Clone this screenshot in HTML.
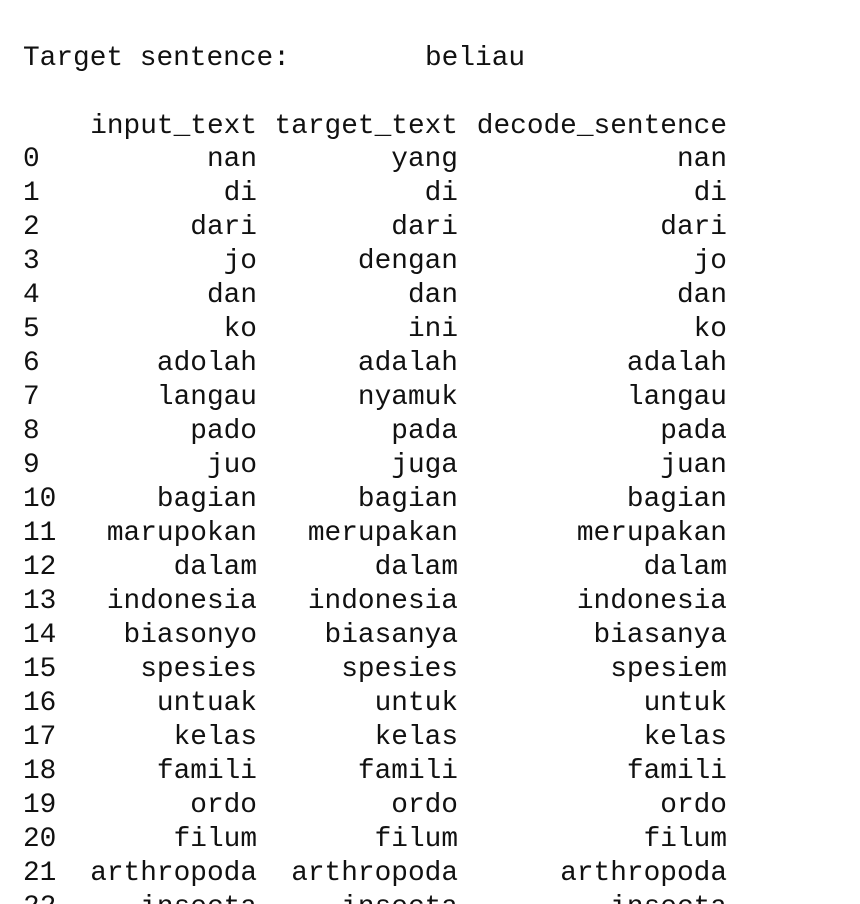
<!DOCTYPE html>
<html><head><meta charset="utf-8"><style>
html,body{margin:0;padding:0;width:860px;height:904px;overflow:hidden;background:#fff;}
#w{position:relative;width:860px;height:904px;overflow:hidden;font-family:"Liberation Mono",monospace;font-size:27.8px;color:#111;}
.r{position:absolute;left:0;width:860px;height:34px;line-height:34px;}
.r span{position:absolute;top:0;white-space:pre;}
.i{left:23px}
.a{right:603px}
.b{right:402px}
.c{right:133px}
</style></head><body><div id="w">
<div class="r" style="top:42px"><span style="left:23px">Target sentence:</span><span style="left:425px">beliau</span></div>
<div class="r" style="top:110px"><span class="a">input_text</span><span class="b">target_text</span><span class="c">decode_sentence</span></div>
<div class="r" style="top:143px"><span class="i">0</span><span class="a">nan</span><span class="b">yang</span><span class="c">nan</span></div>
<div class="r" style="top:177px"><span class="i">1</span><span class="a">di</span><span class="b">di</span><span class="c">di</span></div>
<div class="r" style="top:211px"><span class="i">2</span><span class="a">dari</span><span class="b">dari</span><span class="c">dari</span></div>
<div class="r" style="top:245px"><span class="i">3</span><span class="a">jo</span><span class="b">dengan</span><span class="c">jo</span></div>
<div class="r" style="top:279px"><span class="i">4</span><span class="a">dan</span><span class="b">dan</span><span class="c">dan</span></div>
<div class="r" style="top:313px"><span class="i">5</span><span class="a">ko</span><span class="b">ini</span><span class="c">ko</span></div>
<div class="r" style="top:347px"><span class="i">6</span><span class="a">adolah</span><span class="b">adalah</span><span class="c">adalah</span></div>
<div class="r" style="top:381px"><span class="i">7</span><span class="a">langau</span><span class="b">nyamuk</span><span class="c">langau</span></div>
<div class="r" style="top:415px"><span class="i">8</span><span class="a">pado</span><span class="b">pada</span><span class="c">pada</span></div>
<div class="r" style="top:449px"><span class="i">9</span><span class="a">juo</span><span class="b">juga</span><span class="c">juan</span></div>
<div class="r" style="top:483px"><span class="i">10</span><span class="a">bagian</span><span class="b">bagian</span><span class="c">bagian</span></div>
<div class="r" style="top:517px"><span class="i">11</span><span class="a">marupokan</span><span class="b">merupakan</span><span class="c">merupakan</span></div>
<div class="r" style="top:551px"><span class="i">12</span><span class="a">dalam</span><span class="b">dalam</span><span class="c">dalam</span></div>
<div class="r" style="top:585px"><span class="i">13</span><span class="a">indonesia</span><span class="b">indonesia</span><span class="c">indonesia</span></div>
<div class="r" style="top:619px"><span class="i">14</span><span class="a">biasonyo</span><span class="b">biasanya</span><span class="c">biasanya</span></div>
<div class="r" style="top:653px"><span class="i">15</span><span class="a">spesies</span><span class="b">spesies</span><span class="c">spesiem</span></div>
<div class="r" style="top:687px"><span class="i">16</span><span class="a">untuak</span><span class="b">untuk</span><span class="c">untuk</span></div>
<div class="r" style="top:721px"><span class="i">17</span><span class="a">kelas</span><span class="b">kelas</span><span class="c">kelas</span></div>
<div class="r" style="top:755px"><span class="i">18</span><span class="a">famili</span><span class="b">famili</span><span class="c">famili</span></div>
<div class="r" style="top:789px"><span class="i">19</span><span class="a">ordo</span><span class="b">ordo</span><span class="c">ordo</span></div>
<div class="r" style="top:823px"><span class="i">20</span><span class="a">filum</span><span class="b">filum</span><span class="c">filum</span></div>
<div class="r" style="top:857px"><span class="i">21</span><span class="a">arthropoda</span><span class="b">arthropoda</span><span class="c">arthropoda</span></div>
<div class="r" style="top:891px"><span class="i">22</span><span class="a">insecta</span><span class="b">insecta</span><span class="c">insecta</span></div>
</div></body></html>
